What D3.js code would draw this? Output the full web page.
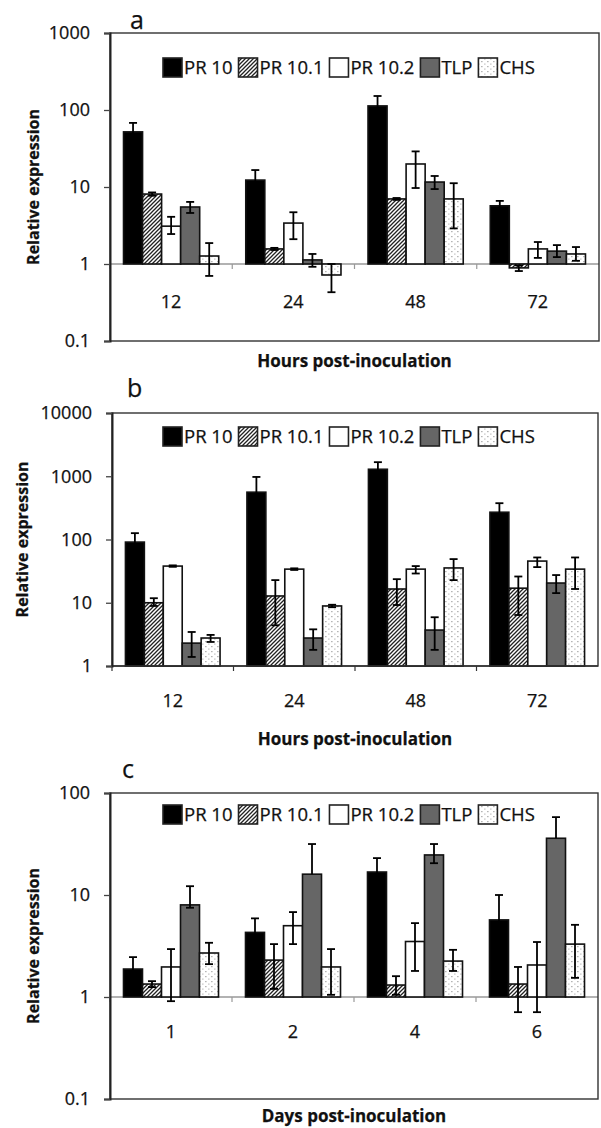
<!DOCTYPE html>
<html>
<head>
<meta charset="utf-8">
<script src="https://cdn.jsdelivr.net/npm/d3@7"></script>
<style>
  body { margin: 0; background: #fff; }
  text { font-family: "Open Sans", sans-serif; fill: #111; stroke: #111; stroke-width: 0.25px; }
</style>
</head>
<body>
<script>
// series and categories
var series = ["PR 10", "PR 10.1", "PR 10.2", "TLP", "CHS"];
var hourCats = ["12", "24", "48", "72"];
var dayCats = ["1", "2", "4", "6"];

// panel a  (rows = series, cols = categories)
var aValues = [[52, 12.3, 113, 5.7], [8.1, 1.57, 7.0, 0.89], [3.1, 3.4, 19.9, 1.57], [5.5, 1.13, 11.6, 1.47], [1.27, 0.72, 7.0, 1.35]];
var aHigh   = [[68, 16.6, 152, 6.6], [8.5, 1.62, 7.2, 0.96], [4.1, 4.7, 29, 1.93], [6.4, 1.35, 13.9, 1.76], [1.87, 1.0, 11.2, 1.66]];
var aLow    = [[38, 8.0, 74, 4.8], [7.7, 1.52, 6.8, 0.81], [2.45, 2.1, 9.7, 1.2], [4.6, 0.92, 9.4, 1.23], [0.7, 0.43, 2.9, 1.1]];

// panel b
var bValues = [[91, 560, 1290, 270], [10, 12.8, 16.5, 17], [38, 34, 34, 45.6], [2.3, 2.77, 3.7, 20.5], [2.77, 8.9, 35.5, 34]];
var bHigh   = [[126, 975, 1670, 375], [11.8, 22.8, 23.6, 26], [39, 35, 38, 52], [3.45, 3.8, 5.9, 27.4], [3.1, 9.3, 49, 52]];
var bLow    = [[56, 145, 910, 165], [8.9, 4.4, 9.2, 6.4], [37, 33, 29, 36.6], [1.39, 1.8, 1.8, 14.2], [2.4, 8.5, 22.8, 16.5]];

// panel c
var cValues = [[1.88, 4.3, 16.8, 5.7], [1.34, 2.3, 1.31, 1.34], [1.97, 5.0, 3.5, 2.06], [8.0, 16, 24.7, 36], [2.7, 1.97, 2.25, 3.3]];
var cHigh   = [[2.46, 5.9, 23, 10], [1.43, 3.3, 1.6, 1.97], [2.95, 6.8, 5.3, 3.46], [12.2, 31.6, 31.6, 58], [3.4, 2.95, 2.9, 5.1]];
var cLow    = [[1.3, 2.7, 10.6, 1.4], [1.25, 1.2, 1.05, 0.71], [0.91, 3.3, 1.8, 0.71], [7.5, null, 20.5, null], [2.1, 1.05, 1.8, 1.54]];

var aTicks = [0.1, 1, 10, 100, 1000];
var bTicks = [1, 10, 100, 1000, 10000];
var cTicks = [0.1, 1, 10, 100];

var svg = d3.select("body").append("svg")
    .attr("width", 601)
    .attr("height", 1128);

var defs = svg.append("defs");
var hatch = defs.append("pattern").attr("id", "hatch")
    .attr("patternUnits", "userSpaceOnUse").attr("width", 4).attr("height", 4);
hatch.append("rect").attr("width", 4).attr("height", 4).attr("fill", "#fff");
hatch.append("path").attr("d", "M-1,1 l2,-2 M0,4 l4,-4 M3,5 l2,-2")
    .attr("stroke", "#222").attr("stroke-width", 1.3);

var dots = defs.append("pattern").attr("id", "dots")
    .attr("patternUnits", "userSpaceOnUse").attr("width", 6).attr("height", 5);
dots.append("rect").attr("width", 6).attr("height", 5).attr("fill", "#fff");
dots.append("rect").attr("x", 1).attr("y", 1).attr("width", 1.6).attr("height", 1.2).attr("fill", "#b5b5b5");
dots.append("rect").attr("x", 4).attr("y", 3.5).attr("width", 1.6).attr("height", 1.2).attr("fill", "#c8c8c8");

var fills = ["#000", "url(#hatch)", "#fff", "#666", "url(#dots)"];

function drawPanel(p) {
  var g = svg.append("g");
  var y = d3.scaleLog().domain(p.domain).range([p.bottom, p.top]);
  var x0 = d3.scaleBand().domain(p.cats).range([p.left, p.right]);
  var x1 = d3.scaleBand().domain(series).range([0, x0.bandwidth()])
      .paddingInner(0).paddingOuter(0.71);

  // horizontal axis at 1
  var y1 = y(1);
  var axisCol = p.darkBase ? "#333" : "#999";
  g.append("line").attr("x1", p.left).attr("x2", p.right)
      .attr("y1", y1).attr("y2", y1)
      .attr("stroke", axisCol).attr("stroke-width", 1.5);
  g.selectAll(".ctick").data(p.cats).enter().append("line")
      .attr("x1", function(d) { return x0(d); })
      .attr("x2", function(d) { return x0(d); })
      .attr("y1", y1).attr("y2", y1 + 5)
      .attr("stroke", axisCol).attr("stroke-width", 1.2);

  // bars
  var rows = [];
  series.forEach(function(s, i) {
    p.cats.forEach(function(c, j) {
      rows.push({s: s, i: i, c: c, v: p.values[i][j], hi: p.high[i][j], lo: p.low[i][j]});
    });
  });
  g.selectAll("rect.bar").data(rows).enter().append("rect")
      .attr("class", "bar")
      .attr("x", function(d) { return x0(d.c) + x1(d.s); })
      .attr("width", x1.bandwidth())
      .attr("y", function(d) { return y(Math.max(d.v, 1)); })
      .attr("height", function(d) { return Math.abs(y(d.v) - y1); })
      .attr("fill", function(d) { return fills[d.i]; })
      .attr("stroke", "#111").attr("stroke-width", 1.6);

  // error bars
  var eb = g.selectAll("g.err").data(rows).enter().append("g")
      .attr("transform", function(d) { return "translate(" + (x0(d.c) + x1(d.s) + x1.bandwidth() / 2) + ",0)"; });
  eb.append("line")
      .attr("y1", function(d) { return y(d.hi); })
      .attr("y2", function(d) { return y(d.lo == null ? d.v : d.lo); })
      .attr("stroke", "#000").attr("stroke-width", 1.8);
  eb.append("line").attr("x1", -4).attr("x2", 4)
      .attr("y1", function(d) { return y(d.hi); })
      .attr("y2", function(d) { return y(d.hi); })
      .attr("stroke", "#000").attr("stroke-width", 1.8);
  eb.filter(function(d) { return d.lo != null; }).append("line").attr("x1", -4).attr("x2", 4)
      .attr("y1", function(d) { return y(d.lo); })
      .attr("y2", function(d) { return y(d.lo); })
      .attr("stroke", "#000").attr("stroke-width", 1.8);

  // frame
  g.append("rect").attr("x", p.left).attr("y", p.top)
      .attr("width", p.right - p.left).attr("height", p.bottom - p.top)
      .attr("fill", "none").attr("stroke", "#333").attr("stroke-width", 1.4);

  // y axis
  var ya = g.append("g").attr("transform", "translate(" + p.left + ",0)")
      .call(d3.axisLeft(y).tickValues(p.ticks).tickFormat(d3.format("~g"))
        .tickSize(6).tickPadding(14));
  ya.select(".domain").attr("stroke", "#222").attr("stroke-width", 2);
  ya.selectAll(".tick line").attr("stroke", "#444").attr("stroke-width", 1.3);
  ya.selectAll(".tick text").style("font-size", "18px").attr("fill", "#111");

  // category labels
  var xa = g.append("g").attr("transform", "translate(0," + y1 + ")")
      .call(d3.axisBottom(x0).tickSize(0).tickPadding(p.labelPad));
  xa.select(".domain").remove();
  xa.selectAll(".tick text").style("font-size", "18px").attr("fill", "#111");

  // titles
  g.append("text").attr("x", (p.left + p.right) / 2).attr("y", p.titleY)
      .attr("text-anchor", "middle").style("font-size", "17px").style("font-weight", "bold")
      .text(p.xTitle);
  g.append("text")
      .attr("transform", "translate(" + p.yTitleX + "," + ((p.top + p.bottom) / 2) + ") rotate(-90)")
      .attr("text-anchor", "middle").style("font-size", "16px").style("font-weight", "bold")
      .text("Relative expression");
  g.append("text").attr("x", p.letterX).attr("y", p.letterY)
      .style("font-size", "25px").text(p.letter);

  // legend
  var lx = 163;
  series.forEach(function(s, i) {
    g.append("rect").attr("x", lx).attr("y", p.legendY).attr("width", 19).attr("height", 19)
        .attr("fill", fills[i]).attr("stroke", "#222").attr("stroke-width", 1.6);
    var t = g.append("text").attr("x", lx + 21).attr("y", p.legendY + 16)
        .style("font-size", "18.5px").text(s);
    lx = lx + 21 + t.node().getComputedTextLength() + 6;
  });
}

drawPanel({letter: "a", cats: hourCats, values: aValues, high: aHigh, low: aLow,
  domain: [0.1, 1000], ticks: aTicks, left: 110, right: 599, top: 33, bottom: 341,
  labelPad: 31, titleY: 367, xTitle: "Hours post-inoculation", yTitleX: 39,
  legendY: 58, letterX: 130, letterY: 29, darkBase: false});

drawPanel({letter: "b", cats: hourCats, values: bValues, high: bHigh, low: bLow,
  domain: [1, 10000], ticks: bTicks, left: 112, right: 598, top: 413, bottom: 666,
  labelPad: 28, titleY: 745, xTitle: "Hours post-inoculation", yTitleX: 28,
  legendY: 427, letterX: 127, letterY: 397, darkBase: true});

drawPanel({letter: "c", cats: dayCats, values: cValues, high: cHigh, low: cLow,
  domain: [0.1, 100], ticks: cTicks, left: 110, right: 598, top: 793, bottom: 1099,
  labelPad: 28, titleY: 1122, xTitle: "Days post-inoculation", yTitleX: 39,
  legendY: 805, letterX: 122, letterY: 778, darkBase: false});
</script>
</body>
</html>
